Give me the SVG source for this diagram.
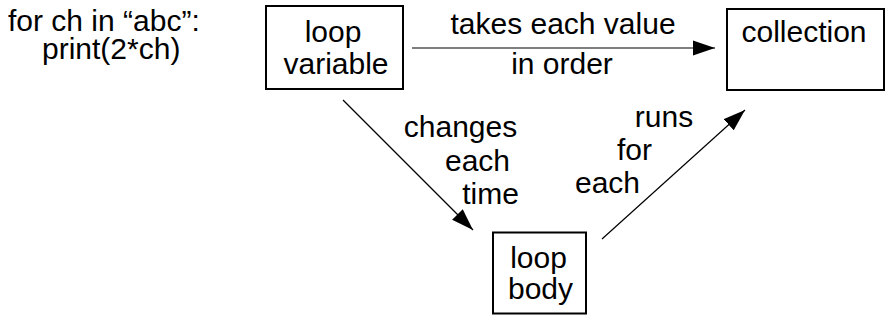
<svg xmlns="http://www.w3.org/2000/svg" width="890" height="323" viewBox="0 0 890 323">
  <defs>
    <style>
      text { font-family: "Liberation Sans", Arial, sans-serif; font-size: 30px; fill: #000; }
      .c { text-anchor: middle; }
      .box { fill: #fff; stroke: #000; stroke-width: 2; }
      .edge { stroke: #000; stroke-width: 1.2; fill: none; marker-end: url(#arrow); }
    </style>
    <marker id="arrow" markerUnits="userSpaceOnUse" markerWidth="22" markerHeight="16" refX="22" refY="8" orient="auto">
      <path d="M0,0.5 L22,8 L0,15.5 z" fill="#000"/>
    </marker>
  </defs>
  <rect width="890" height="323" fill="#fff"/>

  <g id="code">
    <text x="8" y="31">for ch in “abc”:</text>
    <text x="42" y="59">print(2*ch)</text>
  </g>

  <g id="connectors">
    <line class="edge" x1="412" y1="48" x2="715" y2="48"/>
    <line class="edge" x1="343" y1="100" x2="473" y2="230"/>
    <line class="edge" x1="602" y1="239" x2="745" y2="110"/>
    <text class="c" x="563" y="34">takes each value</text>
    <text class="c" x="562" y="74">in order</text>
    <text class="c" x="460.5" y="137">changes</text>
    <text class="c" x="477.5" y="171">each</text>
    <text class="c" x="490.5" y="204">time</text>
    <text class="c" x="664" y="127">runs</text>
    <text class="c" x="634.5" y="160">for</text>
    <text class="c" x="607.5" y="193">each</text>
  </g>

  <g id="loop-variable">
    <rect class="box" x="266" y="6" width="137" height="83"/>
    <text class="c" x="333" y="42">loop</text>
    <text class="c" x="336" y="74">variable</text>
  </g>

  <g id="collection">
    <rect class="box" x="727" y="9" width="157" height="81"/>
    <text class="c" x="804" y="42">collection</text>
  </g>

  <g id="loop-body">
    <rect class="box" x="493" y="232.5" width="93" height="81"/>
    <text class="c" x="538.5" y="267.5">loop</text>
    <text class="c" x="540.5" y="299">body</text>
  </g>
</svg>
